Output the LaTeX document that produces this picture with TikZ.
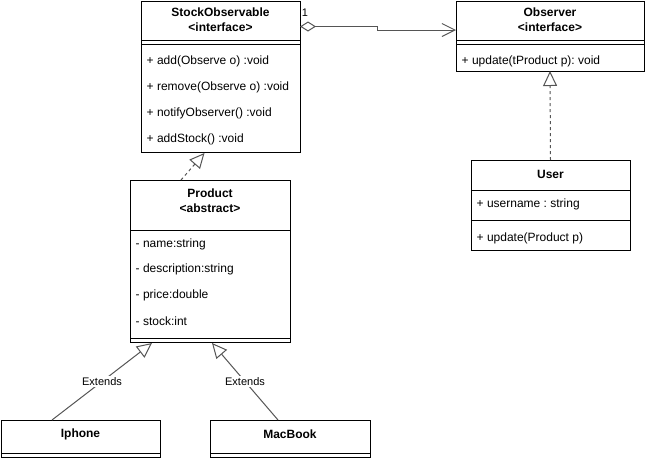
\documentclass[tikz,border=0pt]{standalone}
\usepackage{fontspec}
\setmainfont{Liberation Sans}
\frenchspacing
\usetikzlibrary{arrows.meta,positioning}

\begin{document}
\begin{tikzpicture}[x=1pt,y=-1pt,
    classbox/.style={draw=black,line width=1pt,anchor=north west,inner sep=0pt,outer sep=0pt},
    boxline/.style={draw=black,line width=1pt},
    titletext/.style={align=center,inner sep=0pt,font=\bfseries\fontsize{12}{15}\selectfont},
    member/.style={anchor=west,inner sep=0pt,font=\fontsize{12}{14}\selectfont},
    edge/.style={draw=edgegray,line width=1pt},
    realize/.style={edge,dashed,dash pattern=on 3pt off 3pt,-{Triangle[length=15pt,width=14pt,fill=white,line width=1pt]}},
    inherit/.style={edge,-{Triangle[length=15pt,width=14pt,fill=white,line width=1pt]}},
    extlabel/.style={fill=white,inner sep=1pt,font=\fontsize{11}{13}\selectfont}]
\definecolor{edgegray}{RGB}{85,85,85}
\useasboundingbox (0,0) rectangle (646,459);

% StockObservable
\node[classbox,minimum width=159pt,minimum height=151pt] (stock) at (141,1) {};
\node[titletext] (stocktitle) at ([yshift=-18.5pt]stock.north) {StockObservable\\<interface>};
\draw[boxline] ([yshift=-39pt]stock.north west) -- ([yshift=-39pt]stock.north east);
\draw[boxline] ([yshift=-43pt]stock.north west) -- ([yshift=-43pt]stock.north east);
\node[member] (add) at ([xshift=5.5pt,yshift=-60.5pt]stock.north west) {+ add(Observe o) :void};
\node[member] (remove) at ([xshift=5.5pt,yshift=-86.5pt]stock.north west) {+ remove(Observe o) :void};
\node[member] (notify) at ([xshift=5.5pt,yshift=-112.5pt]stock.north west) {+ notifyObserver() :void};
\node[member] (addstock) at ([xshift=5.5pt,yshift=-138.5pt]stock.north west) {+ addStock() :void};

% Observer
\node[classbox,minimum width=188pt,minimum height=70pt] (observer) at (456,1) {};
\node[titletext] (obstitle) at ([yshift=-18.5pt]observer.north) {Observer\\<interface>};
\draw[boxline] ([yshift=-39pt]observer.north west) -- ([yshift=-39pt]observer.north east);
\draw[boxline] ([yshift=-43pt]observer.north west) -- ([yshift=-43pt]observer.north east);
\node[member] (obsupdate) at ([xshift=5.5pt,yshift=-60.5pt]observer.north west) {+ update(tProduct p): void};

% User
\node[classbox,minimum width=159pt,minimum height=90pt] (user) at (471,160) {};
\node[titletext] (usertitle) at ([yshift=-14pt]user.north) {User};
\draw[boxline] ([yshift=-30pt]user.north west) -- ([yshift=-30pt]user.north east);
\node[member] (username) at ([xshift=5.5pt,yshift=-44pt]user.north west) {+ username : string};
\draw[boxline] ([yshift=-60pt]user.north west) -- ([yshift=-60pt]user.north east);
\node[member] (userupdate) at ([xshift=5.5pt,yshift=-78pt]user.north west) {+ update(Product p)};

% Product
\node[classbox,minimum width=160pt,minimum height=162pt] (product) at (130,180) {};
\node[titletext] (prodtitle) at ([yshift=-21pt]product.north) {Product\\<abstract>};
\draw[boxline] ([yshift=-50pt]product.north west) -- ([yshift=-50pt]product.north east);
\node[member] (pname) at ([xshift=5.5pt,yshift=-64pt]product.north west) {- name:string};
\node[member] (pdesc) at ([xshift=5.5pt,yshift=-89.5pt]product.north west) {- description:string};
\node[member] (pprice) at ([xshift=5.5pt,yshift=-115.5pt]product.north west) {- price:double};
\node[member] (pstock) at ([xshift=5.5pt,yshift=-141.5pt]product.north west) {- stock:int};
\draw[boxline] ([yshift=-158pt]product.north west) -- ([yshift=-158pt]product.north east);

% Iphone, MacBook
\node[classbox,minimum width=159pt,minimum height=37pt] (iphone) at (1,420) {};
\node[titletext] (iphonetitle) at ([yshift=-14.5pt]iphone.north) {Iphone};
\draw[boxline] ([yshift=-33pt]iphone.north west) -- ([yshift=-33pt]iphone.north east);
\node[classbox,minimum width=160pt,minimum height=37pt] (macbook) at (210,420) {};
\node[titletext] (macbooktitle) at ([yshift=-14.5pt]macbook.north) {MacBook};
\draw[boxline] ([yshift=-33pt]macbook.north west) -- ([yshift=-33pt]macbook.north east);

% connectors
\coordinate (aggA) at ([yshift=-25.5pt]stock.north east);
\coordinate (aggB) at ([yshift=-29pt]observer.north west);
\draw[edge,{Diamond[open,length=16pt,width=10pt,line width=1pt]}-{Straight Barb[length=13pt,width=13pt,line width=1pt]}] (aggA) -- ++(77,0) |- (aggB);
\node[inner sep=0pt,font=\fontsize{11}{13}\selectfont] (mult) at ([xshift=5pt,yshift=-12pt]stock.north east) {1};

\draw[realize] (user.north) -- (observer.south);
\draw[realize] ([xshift=-29pt]product.north) -- ([xshift=-16pt,yshift=-1pt]stock.south);

\draw[inherit] ([xshift=-28.5pt]iphone.north) -- node[extlabel] (ext1) {Extends} ([xshift=-58pt,yshift=-1pt]product.south);
\draw[inherit] ([xshift=-12pt]macbook.north) -- node[extlabel] (ext2) {Extends} ([xshift=2pt,yshift=-1pt]product.south);
\end{tikzpicture}
\end{document}
